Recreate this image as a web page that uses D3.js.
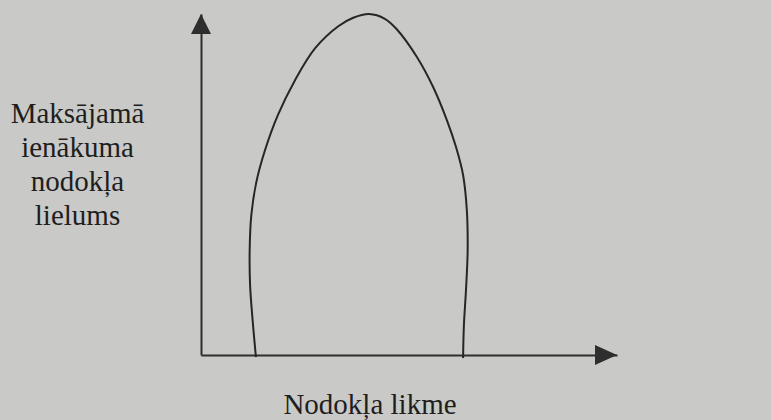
<!DOCTYPE html>
<html lang="lv">
<head>
<meta charset="utf-8">
<script src="https://cdn.jsdelivr.net/npm/d3@7/dist/d3.min.js"></script>
<style>
  html, body { margin: 0; padding: 0; background: #c9c9c7; }
  svg { display: block; }
</style>
</head>
<body>
<svg id="chart" width="771" height="420"></svg>
<script>
// Laffer curve: tax revenue against the tax rate (schematic, 0–100 units)
const curveRate = [13.2, 12.4, 11.8, 11.7, 12.1, 13.3, 15.4, 18.5, 22.6, 27.4, 33.0, 36.6, 40.4,
                   44.2, 47.0, 51.9, 55.8, 59.1, 61.3, 63.0, 63.9, 64.1, 63.7, 63.2, 63.0];
const curveRevenue = [-0.6, 10.3, 20.5, 30.8, 41.1, 50.7, 60.1, 70.4, 80.6, 89.9, 96.4, 98.9, 100,
                      98.6, 95.6, 87.4, 78.6, 68.9, 61.0, 52.8, 42.5, 30.8, 19.1, 8.8, -0.9];

// Axis titles
const yTitleLines = ["Maksājamā", "ienākuma", "nodokļa", "lielums"];
const xTitle = "Nodokļa likme";

const W = 771, H = 420;
const svg = d3.select("#chart");

const x = d3.scaleLinear().domain([0, 100]).range([201, 617]);
const y = d3.scaleLinear().domain([0, 100]).range([355, 14]);

// paper
svg.append("rect").attr("width", W).attr("height", H).attr("fill", "#c9c9c7");

// axes (no ticks, only the axis lines)
const axisColor = "#2e2e2e";
const gx = svg.append("g").attr("transform", `translate(0,${y(0)})`)
  .call(d3.axisBottom(x).tickValues([]).tickSizeOuter(0));
const gy = svg.append("g").attr("transform", `translate(${x(0)},0)`)
  .call(d3.axisLeft(y).tickValues([]).tickSizeOuter(0));
[gx, gy].forEach(g => g.select(".domain").attr("stroke", axisColor).attr("stroke-width", 2));

// arrowheads at the axis ends
const tipX = x(100), tipY = y(100);
svg.append("path")
  .attr("d", `M${tipX},${y(0)} L${tipX - 22},${y(0) - 10} L${tipX - 22},${y(0) + 10} Z`)
  .attr("fill", axisColor);
svg.append("path")
  .attr("d", `M${x(0)},${tipY} L${x(0) - 10},${tipY + 20} L${x(0) + 10},${tipY + 20} Z`)
  .attr("fill", axisColor);

// the curve
const pts = curveRate.map((r, i) => [r, curveRevenue[i]]);
svg.append("path")
  .datum(pts)
  .attr("d", d3.line().x(d => x(d[0])).y(d => y(d[1])).curve(d3.curveCatmullRom.alpha(0.5)))
  .attr("fill", "none")
  .attr("stroke", "#262626")
  .attr("stroke-width", 2);

// titles
const font = "'Liberation Serif', 'Times New Roman', serif";
svg.append("g").selectAll("text")
  .data(yTitleLines)
  .join("text")
  .attr("x", 77.5)
  .attr("y", (d, i) => 123 + i * 34)
  .attr("text-anchor", "middle")
  .attr("font-family", font)
  .attr("font-size", 29)
  .attr("fill", "#1e1e1e")
  .text(d => d);

svg.append("text")
  .attr("x", 370)
  .attr("y", 414)
  .attr("text-anchor", "middle")
  .attr("font-family", font)
  .attr("font-size", 29)
  .attr("fill", "#1e1e1e")
  .text(xTitle);
</script>
</body>
</html>
